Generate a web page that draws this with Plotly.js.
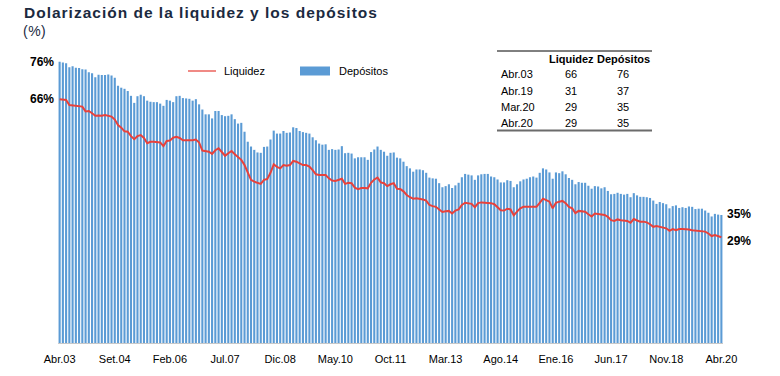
<!DOCTYPE html>
<html><head><meta charset="utf-8">
<script src="https://cdn.plot.ly/plotly-3.0.1.min.js"></script>
<style>html,body{margin:0;padding:0;background:#fff;}#chart{width:780px;height:376px;}</style>
</head><body><div id="chart"></div>
<script>
// Monthly series, Abr.03 .. Abr.20 (205 months)
const depositos = [
76.0,75.8,75.6,74.5,74.8,74.4,74.3,74.0,73.9,73.2,72.9,71.8,72.5,72.4,72.4,72.6,72.3,71.7,69.5,69.0,
68.7,68.1,66.8,64.9,66.7,67.1,66.7,65.5,65.2,65.1,65.1,64.7,64.1,65.7,65.5,65.1,66.7,66.8,66.2,66.1,
66.0,65.5,65.9,64.5,63.1,61.8,61.8,60.7,62.7,62.7,61.6,61.3,61.4,61.8,60.5,59.3,59.5,57.1,54.4,53.1,
52.2,51.5,51.4,53.0,53.1,55.0,57.4,56.6,56.6,57.3,56.8,56.9,58.3,58.1,57.3,57.0,56.8,56.6,55.6,54.8,
53.9,53.6,53.7,52.2,52.4,52.2,52.3,53.2,51.3,51.4,51.2,49.9,50.2,50.2,50.2,49.5,51.6,52.3,53.1,52.2,
51.7,50.6,51.4,51.5,50.1,49.9,49.0,47.8,47.2,46.3,46.9,46.9,46.7,46.0,44.7,44.5,44.4,43.2,42.1,42.4,
42.9,41.9,42.6,43.3,44.8,45.7,45.5,45.3,44.1,45.3,45.6,45.7,45.7,45.0,44.8,44.2,43.4,43.4,44.0,43.8,
42.1,42.9,43.7,44.2,44.4,44.8,45.0,44.7,46.0,47.2,46.9,46.1,44.4,46.1,45.9,46.4,45.6,44.6,44.1,42.9,
43.5,43.3,43.3,42.5,41.7,42.4,42.3,41.8,42.1,41.1,40.2,40.3,40.6,40.3,40.1,40.3,39.4,40.5,39.9,39.5,
39.5,39.4,39.2,38.5,37.6,38.1,37.8,37.5,36.4,37.0,37.2,36.5,36.7,36.5,36.9,36.8,36.2,36.3,36.3,35.8,
35.2,34.2,34.9,34.7,34.6
];
const liquidez = [
65.9,65.9,65.7,64.3,64.2,64.3,64.2,63.9,62.6,62.7,62.1,61.4,61.5,61.4,61.6,61.3,61.2,60.4,58.9,58.2,
57.2,57.1,55.9,55.1,55.9,56.2,55.4,54.0,54.4,54.4,54.3,54.2,53.2,54.6,54.7,55.5,55.7,55.4,54.8,54.8,
54.7,54.8,55.0,54.2,52.0,51.8,51.7,51.1,52.1,52.6,51.5,50.6,51.3,51.9,51.0,50.2,49.5,48.1,45.9,44.1,
43.6,43.2,43.0,44.1,44.3,46.0,48.3,47.6,47.2,48.1,47.9,48.1,49.2,49.0,48.5,48.1,48.1,47.7,46.7,45.6,
45.4,45.4,45.4,44.5,43.9,43.8,44.1,44.4,43.0,43.3,43.2,42.0,41.6,41.9,41.9,41.8,43.3,44.2,44.7,43.4,
43.2,42.4,42.9,43.2,41.7,41.6,41.0,40.0,39.4,39.0,39.1,39.0,38.8,38.5,37.3,37.0,36.8,36.1,35.4,35.6,
35.7,35.0,35.8,36.1,37.3,37.9,37.8,37.6,36.7,37.8,38.0,38.0,37.9,37.8,37.5,36.8,35.9,35.8,36.3,36.1,
34.5,35.5,36.4,36.8,36.8,36.8,37.0,36.8,37.9,39.0,38.6,38.2,36.4,37.9,38.2,38.4,37.8,36.8,36.4,35.1,
35.7,35.7,35.5,34.8,34.2,35.0,34.9,34.8,34.6,34.1,33.2,33.0,33.4,33.2,33.2,33.0,32.5,33.5,33.1,32.8,
32.8,32.6,32.1,31.4,31.6,31.4,31.2,31.0,30.3,30.8,30.5,30.8,30.8,30.8,30.7,30.5,30.4,30.4,30.3,30.1,
29.6,28.9,29.2,29.0,28.6
];
const tickLabels = ["Abr.03","Set.04","Feb.06","Jul.07","Dic.08","May.10","Oct.11","Mar.13","Ago.14","Ene.16","Jun.17","Nov.18","Abr.20"];
const tickStep = 17;
const tableRows = ["Abr.03","Abr.19","Mar.20","Abr.20"];
const tableLiq = [66,31,29,29];
const tableDep = [76,37,35,35];
const tableHeader = ["Liquidez","Depósitos"];
const startLabels = ["76%","66%"];
const endLabels = ["35%","29%"];

const n = depositos.length;
const xs = depositos.map((_, i) => i);
const tickvals = tickLabels.map((_, i) => i * tickStep);

const FONT = 'Liberation Sans Narrow, Arial Narrow, Liberation Sans, Arial, sans-serif';
const FONT2 = 'Liberation Sans, Arial, sans-serif';
const RED = '#E8413B', BLUE = '#5B9BD5';

const traces = [
  {type:'bar', x: xs, y: depositos, name:'Depósitos', marker:{color: BLUE}, showlegend:false, hoverinfo:'skip'},
  {type:'scatter', mode:'lines', x: xs, y: liquidez, name:'Liquidez', line:{color: RED, width:2}, showlegend:false, hoverinfo:'skip'}
];

const W = 780, H = 376;
const ml = 58, mr = 57, mt = 47, mb = 33;
const pw = W - ml - mr, ph = H - mt - mb;
const px = (X) => (X - ml) / pw;   // pixel -> paper
const py = (Y) => (H - mb - Y) / ph;

const annotations = [
  {xref:'paper', yref:'paper', x: px(22), y: py(12), xanchor:'left', yanchor:'middle', showarrow:false,
   text:'<b>Dolarización de la liquidez y los depósitos</b>', font:{family:FONT2, size:15.5, color:'#1b2a3f'}, name:'title'},
  {xref:'paper', yref:'paper', x: px(21), y: py(31), xanchor:'left', yanchor:'middle', showarrow:false,
   text:'(%)', font:{family:FONT2, size:14, color:'#1b2a3f'}},
  {xref:'x', yref:'y', x: 0, y: depositos[0], xanchor:'right', yanchor:'middle', xshift:-4, showarrow:false,
   text:'<b>'+startLabels[0]+'</b>', font:{family:FONT2, size:12, color:'#000'}},
  {xref:'x', yref:'y', x: 0, y: liquidez[0], xanchor:'right', yanchor:'middle', xshift:-4, showarrow:false,
   text:'<b>'+startLabels[1]+'</b>', font:{family:FONT2, size:12, color:'#000'}},
  {xref:'x', yref:'y', x: n-1, y: depositos[n-1], xanchor:'left', yanchor:'middle', xshift:4, yshift:1, showarrow:false,
   text:'<b>'+endLabels[0]+'</b>', font:{family:FONT2, size:12, color:'#000'}},
  {xref:'x', yref:'y', x: n-1, y: liquidez[n-1], xanchor:'left', yanchor:'middle', xshift:4, yshift:-4, showarrow:false,
   text:'<b>'+endLabels[1]+'</b>', font:{family:FONT2, size:12, color:'#000'}},
  // legend texts
  {xref:'paper', yref:'paper', x: px(222), y: py(71), xanchor:'left', yanchor:'middle', showarrow:false,
   text: traces[1].name, font:{family:FONT2, size:11, color:'#000'}},
  {xref:'paper', yref:'paper', x: px(337), y: py(71), xanchor:'left', yanchor:'middle', showarrow:false,
   text: traces[0].name, font:{family:FONT2, size:11, color:'#000'}}
];

// table
const colLiqX = 571, colDepX = 623, rowLabelX = 499;
annotations.push({xref:'paper', yref:'paper', x: px(colLiqX), y: py(59), xanchor:'center', yanchor:'middle', showarrow:false,
  text:'<b>'+tableHeader[0]+'</b>', font:{family:FONT, size:11, color:'#000'}});
annotations.push({xref:'paper', yref:'paper', x: px(colDepX), y: py(59), xanchor:'center', yanchor:'middle', showarrow:false,
  text:'<b>'+tableHeader[1]+'</b>', font:{family:FONT, size:11, color:'#000'}});
const rowY = [74.5, 90.5, 107, 123];
tableRows.forEach((r, i) => {
  annotations.push({xref:'paper', yref:'paper', x: px(rowLabelX), y: py(rowY[i]), xanchor:'left', yanchor:'middle', showarrow:false,
    text: r, font:{family:FONT, size:11, color:'#000'}});
  annotations.push({xref:'paper', yref:'paper', x: px(colLiqX), y: py(rowY[i]), xanchor:'center', yanchor:'middle', showarrow:false,
    text: String(tableLiq[i]), font:{family:FONT, size:11, color:'#000'}});
  annotations.push({xref:'paper', yref:'paper', x: px(colDepX), y: py(rowY[i]), xanchor:'center', yanchor:'middle', showarrow:false,
    text: String(tableDep[i]), font:{family:FONT, size:11, color:'#000'}});
});

const shapes = [
  {type:'line', xref:'paper', yref:'paper', x0: px(497), x1: px(652), y0: py(51), y1: py(51), line:{color:'#000', width:1}},
  {type:'line', xref:'paper', yref:'paper', x0: px(497), x1: px(652), y0: py(130.5), y1: py(130.5), line:{color:'#6b6b6b', width:2}},
  // legend symbols
  {type:'line', xref:'paper', yref:'paper', x0: px(188), x1: px(216), y0: py(71), y1: py(71), line:{color:'#F08A85', width:2}},
  {type:'rect', xref:'paper', yref:'paper', x0: px(300), x1: px(330), y0: py(75.5), y1: py(66.5), line:{width:0}, fillcolor: BLUE}
];

const layout = {
  width: W, height: H,
  margin: {l: ml, r: mr, t: mt, b: mb, pad: 0},
  paper_bgcolor:'#fff', plot_bgcolor:'#fff',
  bargap: 0.35,
  showlegend: false,
  xaxis: {range:[-0.5, n-0.5], tickmode:'array', tickvals: tickvals, ticktext: tickLabels,
          showgrid:false, zeroline:false, showline:true, linecolor:'#c8c8c8', linewidth:1,
          ticks:'', tickfont:{family:FONT, size:11, color:'#000'}, ticklabelstandoff: 6, fixedrange:true},
  yaxis: {range:[0, 80], visible:false, fixedrange:true},
  annotations: annotations,
  shapes: shapes
};

Plotly.newPlot('chart', traces, layout, {staticPlot:true, displayModeBar:false}).then(() => {
  // widen the title's letter spacing like the reference, keeping its left edge fixed
  const texts = document.querySelectorAll('#chart .annotation-text');
  [0, 1].forEach((k) => {
    const el = texts[k];
    if (!el) return;
    const before = el.getBBox().x;
    el.style.letterSpacing = k === 0 ? '1px' : '0.5px';
    const after = el.getBBox().x;
    const g = el.parentNode;
    const dx = before - after;
    if (Math.abs(dx) > 0.1) {
      const cur = g.getAttribute('transform') || '';
      g.setAttribute('transform', cur + ' translate(' + dx + ',0)');
    }
  });
});
</script>
</body></html>
